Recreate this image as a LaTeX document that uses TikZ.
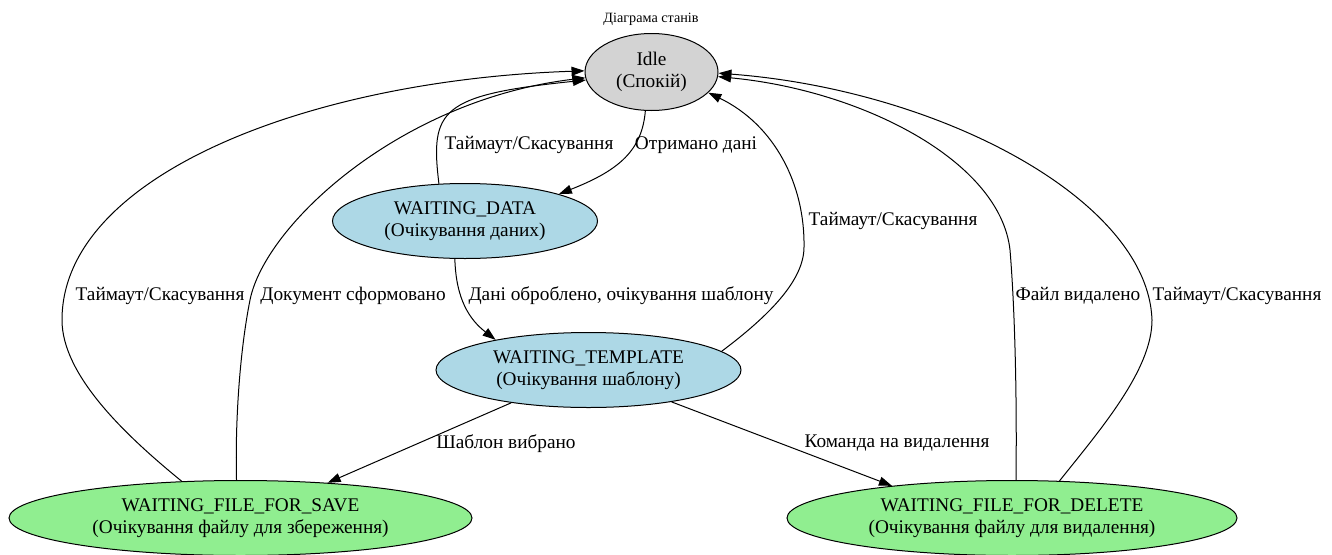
\documentclass[tikz,border=0pt]{standalone}
\usepackage{fontspec}
\setmainfont{Liberation Serif}
\usetikzlibrary{
  shapes,
  arrows.meta,
  shapes.geometric,
}
\definecolor{idlegray}{HTML}{D3D3D3}
\definecolor{waitblue}{HTML}{ADD8E6}
\definecolor{filegreen}{HTML}{90EE90}
\tikzstyle{state} = [
ellipse,
draw,
line width=1pt,
inner sep=0pt,
minimum height=75pt,
align=center
]
\tikzstyle{idlestate} = [state, fill=idlegray, minimum width=133pt, minimum height=77pt]
\tikzstyle{waitstate} = [state, fill=waitblue]
\tikzstyle{filestate} = [state, fill=filegreen]
\tikzstyle{edgetext} = [inner sep=1pt]
\tikzstyle{transition} = [draw, line width=1pt, -{Triangle[length=13pt,width=9pt]}]

\begin{document}
\begin{tikzpicture}[x=1pt, y=-1pt, font=\fontsize{19.3}{22.6}\selectfont]
  \useasboundingbox (0,0) rectangle (1332,554);
  % Place nodes
  \node [font=\fontsize{14.2}{16}\selectfont] (title) at (651,19) {Діаграма станів};
  \node [idlestate] (idle) at (651.5,72) {Idle\\(Спокій)};
  \node [waitstate, minimum width=265pt] (wdata) at (465,221) {WAITING\_DATA\\(Очікування даних)};
  \node [waitstate, minimum width=305pt] (wtemp) at (588.5,370) {WAITING\_TEMPLATE\\(Очікування шаблону)};
  \node [filestate, minimum width=463pt] (wsave) at (240.5,518) {WAITING\_FILE\_FOR\_SAVE\\(Очікування файлу для збереження)};
  \node [filestate, minimum width=450pt] (wdel) at (1012,518) {WAITING\_FILE\_FOR\_DELETE\\(Очікування файлу для видалення)};

  % Edge labels
  \node [edgetext] (lrecv) at (696,145) {Отримано дані};
  \node [edgetext] (ltimedata) at (529,145) {Таймаут/Скасування};
  \node [edgetext] (lproc) at (621,296) {Дані оброблено, очікування шаблону};
  \node [edgetext] (ltimetemp) at (893,221) {Таймаут/Скасування};
  \node [edgetext] (lchosen) at (506,444) {Шаблон вибрано};
  \node [edgetext] (ldelcmd) at (897,443) {Команда на видалення};
  \node [edgetext] (ltimesave) at (160,296) {Таймаут/Скасування};
  \node [edgetext] (ldoc) at (353,296) {Документ сформовано};
  \node [edgetext] (lremoved) at (1078,296) {Файл видалено};
  \node [edgetext] (ltimedel) at (1237,296) {Таймаут/Скасування};

  % Draw edges
  \path [transition] (idle.-99) .. controls (642,150) and (620,170) .. (wdata.16);
  \path [transition] (wdata.125) .. controls (430,110) and (440,95) .. (idle.187);
  \path [transition] (wdata.-105) .. controls (456,300) and (470,320) .. (wtemp.162);
  \path [transition] (wtemp.8) .. controls (770,315) and (804,280) .. (804,247)
                            .. controls (805,185) and (775,125) .. (idle.-20);
  \path [transition] (wtemp.-157) -- (wsave.22);
  \path [transition] (wtemp.-21) -- (wdel.165);
  \path [transition] (wsave.148) .. controls (125,435) and (62,375) .. (62,320)
                              .. controls (62,175) and (310,80) .. (idle.179);
  \path [transition] (wsave.96) .. controls (235,420) and (240,350) .. (250,300)
                             .. controls (265,225) and (400,100) .. (idle.185);
  \path [transition] (wdel.84) .. controls (1017,400) and (1015,310) .. (1010,250)
                            .. controls (1000,160) and (860,90) .. (idle.-4);
  \path [transition] (wdel.38) .. controls (1100,430) and (1152,370) .. (1152,320)
                            .. controls (1148,200) and (940,90) .. (idle.-1);
\end{tikzpicture}
\end{document}
